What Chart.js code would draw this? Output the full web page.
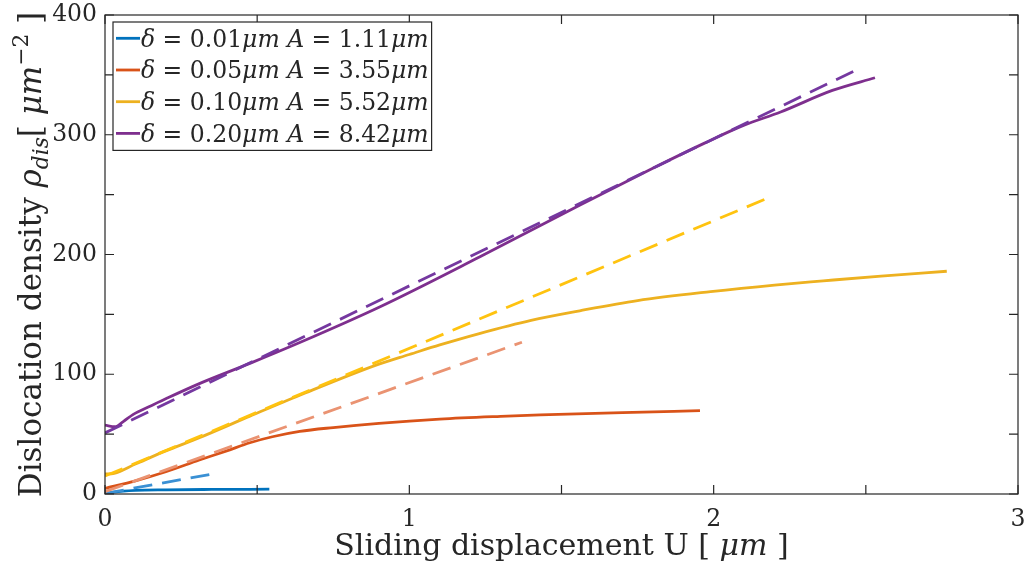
<!DOCTYPE html>
<html>
<head>
<meta charset="utf-8">
<script src="https://cdn.jsdelivr.net/npm/chart.js@4.4.1/dist/chart.umd.min.js"></script>
<style>
  html, body { margin: 0; padding: 0; background: #fff; }
  #wrap { width: 1032px; height: 583px; position: relative; }
</style>
</head>
<body>
<div id="wrap"><canvas id="c"></canvas></div>
<script>
// Sliding displacement U [μm] and dislocation density ρ_dis [μm^-2]
const uBlue = [0, 0.03, 0.1, 0.2, 0.35, 0.54];
const rhoBlue = [0, 1.5, 3, 3.5, 3.8, 4.0];
const uBlueFit = [0, 0.365];
const rhoBlueFit = [0.5, 17.3];

const uOrange = [0, 0.1, 0.2, 0.31, 0.4, 0.476, 0.55, 0.64, 0.75, 0.9, 1.1, 1.3, 1.43, 1.7, 1.955];
const rhoOrange = [4.7, 11, 18.6, 28.4, 36, 42.8, 47.8, 52.3, 55.5, 59, 62.5, 64.8, 66, 68, 69.6];
const uOrangeFit = [0, 1.37];
const rhoOrangeFit = [2, 126.7];

const uYellow = [0, 0.03, 0.1, 0.2, 0.31, 0.476, 0.64, 0.9, 1.0, 1.1, 1.23, 1.4, 1.56, 1.75, 1.99, 2.2, 2.36, 2.55, 2.766];
const rhoYellow = [16.7, 17.3, 25, 36, 47, 65, 82.5, 108.5, 116.5, 124.5, 134, 145, 153, 161.5, 169, 174.5, 178, 182, 186];
const uYellowFit = [0, 2.17];
const rhoYellowFit = [15, 246.3];

const uPurple = [0, 0.033, 0.06, 0.093, 0.15, 0.203, 0.312, 0.476, 0.64, 0.904, 1.232, 1.561, 1.8, 1.97, 2.1, 2.22, 2.39, 2.53];
const rhoPurple = [57.5, 56.2, 60.5, 66.5, 73.5, 79.9, 92.4, 109.1, 126.5, 156.4, 198.1, 241.3, 272, 293, 308, 319, 337, 347.6];
const uPurpleFit = [0, 2.465];
const rhoPurpleFit = [51, 353.7];

// Legend parameters: step δ and amplitude A, both in μm
const deltas = ['0.01', '0.05', '0.10', '0.20'];
const amps = ['1.11', '3.55', '5.52', '8.42'];

// Axis ticks
const xTickStep = 0.5;
const yTickStep = 50;
const xLabelEvery = 1;
const yLabelEvery = 100;

const colors = ['#0072BD', '#D95319', '#EDB120', '#7E2F8E'];
const fitColors = ['#3A90D4', '#EA9372', '#FFC30F', '#7538A0'];

const FONT = '"DejaVu Serif", serif';
const INK = '#262626';

const pts = (xs, ys) => xs.map((x, i) => ({ x, y: ys[i] }));

const series = [
  [uBlue, rhoBlue, uBlueFit, rhoBlueFit],
  [uOrange, rhoOrange, uOrangeFit, rhoOrangeFit],
  [uYellow, rhoYellow, uYellowFit, rhoYellowFit],
  [uPurple, rhoPurple, uPurpleFit, rhoPurpleFit]
];

const datasets = [];
series.forEach((s, k) => {
  datasets.push({
    label: 'δ = ' + deltas[k] + 'μm A = ' + amps[k] + 'μm',
    data: pts(s[0], s[1]),
    borderColor: colors[k],
    borderWidth: 2.8,
    pointRadius: 0,
    cubicInterpolationMode: 'monotone',
    fill: false,
    isMeasured: true,
    order: 100 - datasets.length
  });
  datasets.push({
    label: 'fit ' + deltas[k],
    data: pts(s[2], s[3]),
    borderColor: fitColors[k],
    borderWidth: 2.8,
    borderDash: [19, 10],
    pointRadius: 0,
    fill: false,
    isMeasured: false,
    order: 100 - datasets.length
  });
});

// Draws a run of text pieces; each piece may be italic, subscript or superscript.
function richWidth(ctx, segs, size) {
  let w = 0;
  segs.forEach(s => {
    const sz = (s.sub || s.sup) ? size * 0.7 : size;
    ctx.font = (s.it ? 'italic ' : '') + sz + 'px ' + FONT;
    w += ctx.measureText(s.t).width;
  });
  return w;
}
function drawRich(ctx, segs, x, y, size) {
  let cx = x;
  segs.forEach(s => {
    const sz = (s.sub || s.sup) ? size * 0.7 : size;
    ctx.font = (s.it ? 'italic ' : '') + sz + 'px ' + FONT;
    const dy = s.sub ? size * 0.22 : (s.sup ? -size * 0.42 : 0);
    ctx.fillText(s.t, cx, y + dy);
    cx += ctx.measureText(s.t).width;
  });
  return cx;
}

const framePlugin = {
  id: 'frame',
  afterDatasetsDraw(chart) {
    const { ctx, chartArea: a, scales } = chart;
    ctx.save();
    ctx.strokeStyle = INK;
    ctx.lineWidth = 1.2;
    ctx.strokeRect(a.left, a.top, a.right - a.left, a.bottom - a.top);
    const tl = 9;
    ctx.beginPath();
    for (let v = scales.x.min; v <= scales.x.max + 1e-9; v += xTickStep) {
      const px = scales.x.getPixelForValue(v);
      ctx.moveTo(px, a.bottom); ctx.lineTo(px, a.bottom - tl);
      ctx.moveTo(px, a.top); ctx.lineTo(px, a.top + tl);
    }
    for (let v = scales.y.min; v <= scales.y.max + 1e-9; v += yTickStep) {
      const py = scales.y.getPixelForValue(v);
      ctx.moveTo(a.left, py); ctx.lineTo(a.left + tl, py);
      ctx.moveTo(a.right, py); ctx.lineTo(a.right - tl, py);
    }
    ctx.stroke();
    ctx.restore();
  },
  afterDraw(chart) {
    const { ctx, chartArea: a } = chart;
    ctx.save();
    ctx.fillStyle = INK;
    ctx.textBaseline = 'alphabetic';

    // x axis title
    const tSize = 30;
    const xSegs = [{ t: 'Sliding displacement U [ ' }, { t: 'μm', it: true }, { t: ' ]' }];
    const xw = richWidth(ctx, xSegs, tSize);
    drawRich(ctx, xSegs, (a.left + a.right) / 2 - xw / 2, 555, tSize);

    // y axis title
    const ySize = 31;
    const ySegs = [
      { t: 'Dislocation density ' }, { t: 'ρ', it: true }, { t: 'dis', it: true, sub: true },
      { t: '[ ' }, { t: 'μm', it: true }, { t: '−2', sup: true }, { t: ' ]' }
    ];
    const yw = richWidth(ctx, ySegs, ySize);
    ctx.save();
    ctx.translate(41, (a.top + a.bottom) / 2);
    ctx.rotate(-Math.PI / 2);
    drawRich(ctx, ySegs, -yw / 2, 0, ySize);
    ctx.restore();

    // legend for the measured curves
    const lSize = 23.5;
    const x0 = 113, y0 = 22, rowH = 31.7, firstRow = 16.3;
    const rows = chart.data.datasets.map((d, i) => ({ d, i })).filter(r => r.d.isMeasured);
    const segsFor = k => [
      { t: 'δ', it: true }, { t: ' = ' + deltas[k] }, { t: 'μm', it: true },
      { t: ' ' }, { t: 'A', it: true }, { t: ' = ' + amps[k] }, { t: 'μm', it: true }
    ];
    let maxW = 0;
    rows.forEach((r, k) => { maxW = Math.max(maxW, richWidth(ctx, segsFor(k), lSize)); });
    const boxW = 28 + maxW + 3;
    const boxH = firstRow + rowH * (rows.length - 1) + 17;
    ctx.fillStyle = '#fff';
    ctx.fillRect(x0, y0, boxW, boxH);
    ctx.strokeStyle = INK;
    ctx.lineWidth = 1.2;
    ctx.strokeRect(x0, y0, boxW, boxH);
    rows.forEach((r, k) => {
      const cy = y0 + firstRow + rowH * k;
      ctx.strokeStyle = r.d.borderColor;
      ctx.lineWidth = 2.8;
      ctx.beginPath();
      ctx.moveTo(x0 + 3, cy); ctx.lineTo(x0 + 27, cy);
      ctx.stroke();
      ctx.fillStyle = INK;
      drawRich(ctx, segsFor(k), x0 + 28, cy + lSize * 0.36, lSize);
    });
    ctx.restore();
  }
};

new Chart(document.getElementById('c'), {
  type: 'line',
  data: { datasets },
  options: {
    responsive: true,
    maintainAspectRatio: false,
    animation: false,
    layout: { padding: { top: 15, right: 14, left: 0, bottom: 0 } },
    plugins: { legend: { display: false }, tooltip: { enabled: false } },
    scales: {
      x: {
        type: 'linear', min: 0, max: 3,
        grid: { display: false, drawTicks: false },
        border: { display: false },
        ticks: {
          stepSize: xTickStep, autoSkip: false, maxRotation: 0, padding: 12,
          color: INK, font: { family: FONT, size: 23.5 },
          callback: v => (Math.abs(v / xLabelEvery - Math.round(v / xLabelEvery)) < 1e-9 ? v : '')
        },
        afterFit: s => { s.height = 89; s.paddingLeft = 0; s.paddingRight = 0; }
      },
      y: {
        type: 'linear', min: 0, max: 400,
        grid: { display: false, drawTicks: false },
        border: { display: false },
        ticks: {
          stepSize: yTickStep, autoSkip: false, padding: 8,
          color: INK, font: { family: FONT, size: 23.5 },
          callback: v => (v % yLabelEvery === 0 ? v : '')
        },
        afterFit: s => { s.width = 105; s.paddingTop = 0; s.paddingBottom = 0; }
      }
    }
  },
  plugins: [framePlugin]
});
</script>
</body>
</html>
